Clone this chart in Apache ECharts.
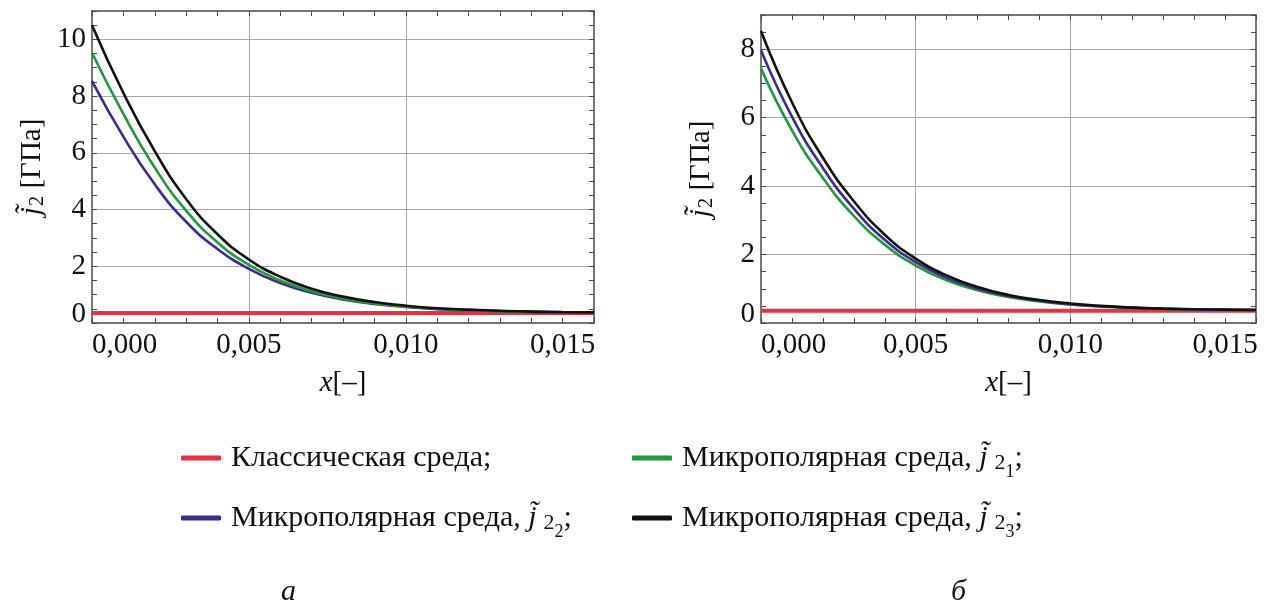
<!DOCTYPE html>
<html>
<head>
<meta charset="utf-8">
<script src="https://cdn.jsdelivr.net/npm/echarts@6/dist/echarts.min.js"></script>
<style>
html, body { margin: 0; padding: 0; background: #fff; }
#main { width: 1273px; height: 606px; }
</style>
</head>
<body>
<div id="main"></div>
<script>
// x, [-]
const xVals = [0, 0.001, 0.002, 0.003, 0.004, 0.005, 0.006, 0.007, 0.008, 0.009, 0.010, 0.011, 0.012, 0.013, 0.014, 0.015, 0.016];

// panel a, GPa
const classicA = [0.35, 0.35, 0.35, 0.35, 0.35, 0.35, 0.35, 0.35, 0.35, 0.35, 0.35, 0.35, 0.35, 0.35, 0.35, 0.35, 0.35];
const j21A = [9.53, 7.37, 5.48, 3.96, 2.84, 2.05, 1.5, 1.12, 0.86, 0.69, 0.58, 0.5, 0.45, 0.42, 0.4, 0.38, 0.37];
const j22A = [8.53, 6.57, 4.89, 3.57, 2.61, 1.91, 1.41, 1.07, 0.83, 0.67, 0.565, 0.49, 0.45, 0.415, 0.39, 0.38, 0.37];
const j23A = [10.5, 8.11, 6.06, 4.37, 3.13, 2.24, 1.63, 1.21, 0.93, 0.74, 0.61, 0.52, 0.47, 0.43, 0.4, 0.385, 0.375];

// panel b, GPa
const classicB = [0.36, 0.36, 0.36, 0.36, 0.36, 0.36, 0.36, 0.36, 0.36, 0.36, 0.36, 0.36, 0.36, 0.36, 0.36, 0.36, 0.36];
const j21B = [7.44, 5.63, 4.24, 3.13, 2.29, 1.68, 1.25, 0.96, 0.76, 0.63, 0.54, 0.48, 0.44, 0.41, 0.4, 0.385, 0.375];
const j22B = [7.97, 6.03, 4.53, 3.34, 2.43, 1.78, 1.32, 1.0, 0.79, 0.65, 0.55, 0.49, 0.45, 0.42, 0.4, 0.385, 0.38];
const j23B = [8.53, 6.45, 4.83, 3.56, 2.58, 1.88, 1.39, 1.05, 0.82, 0.67, 0.57, 0.5, 0.45, 0.42, 0.4, 0.39, 0.38];

const names = ['Классическая среда;', 'Микрополярная среда, j21;', 'Микрополярная среда, j22;', 'Микрополярная среда, j23;'];
const subs = ['', '1', '2', '3'];
const colors = ['#e8323f', '#1f9a3c', '#3c2c8e', '#111111'];
const panelLabels = ['а', 'б'];

const F = '"Liberation Serif", "Times New Roman", serif';
const FRAME = '#4a4a4a';
const GRIDC = '#a8a8a8';
const NONE = 'rgba(0,0,0,0)';

const chart = echarts.init(document.getElementById('main'));

const grids = [
  { left: 92, right: 679, top: 11, bottom: 283, outerBoundsMode: 'none' },
  { left: 761, right: 17, top: 15, bottom: 283, outerBoundsMode: 'none' }
];
const yMax = [11, 9];

function pairs(ys) {
  return xVals.map((x, i) => [x, ys[i]]);
}

function xLabel(v) {
  const m = Math.round(v * 1000);
  if (m % 5 !== 0 || m > 15) return '';
  return v.toFixed(3).replace('.', ',');
}
function yLabel(v) {
  const r = Math.round(v);
  if (Math.abs(v - r) > 1e-6 || r % 2 !== 0) return '';
  if (r === 0) return '{z|0}';
  return '{n|' + r + '}';
}

const nameRich = {
  j: { fontFamily: F, fontSize: 29, fontStyle: 'italic', color: '#111' },
  x: { fontFamily: F, fontSize: 29, fontStyle: 'italic', color: '#111' },
  s: { fontFamily: F, fontSize: 21, color: '#111', padding: [10, 0, 0, 1] },
  t: { fontFamily: F, fontSize: 29, color: '#111' }
};

const xAxes = [];
const yAxes = [];
[0, 1].forEach(g => {
  const xSplit = xVals.map((x, i) => (i === 5 || i === 10) ? GRIDC : NONE);
  const nY = yMax[g] * 2 + 1;
  const ySplit = [];
  for (let i = 0; i < nY; i++) ySplit.push(i > 0 && i % 4 === 0 ? GRIDC : NONE);
  const common = {
    type: 'value', gridIndex: g, min: 0, max: 0.016, interval: 0.001,
    axisLine: { show: true, onZero: false, lineStyle: { color: FRAME, width: 1.5 } },
    axisTick: { show: true, inside: true, length: 5, lineStyle: { color: FRAME, width: 1 } }
  };
  xAxes.push(Object.assign({}, common, {
    position: 'bottom',
    name: '{x|x}{t|[–]}',
    nameLocation: 'middle',
    nameGap: 46,
    nameTextStyle: { rich: nameRich },
    axisLabel: {
      show: true, margin: 8, formatter: xLabel, alignMinLabel: 'left',
      fontFamily: F, fontSize: 29, color: '#111'
    },
    splitLine: { show: true, lineStyle: { color: xSplit, width: 1 } }
  }));
  xAxes.push(Object.assign({}, common, {
    position: 'top',
    axisLabel: { show: false },
    splitLine: { show: false }
  }));
  const ycommon = {
    type: 'value', gridIndex: g, min: 0, max: yMax[g], interval: 0.5,
    axisLine: { show: true, onZero: false, lineStyle: { color: FRAME, width: 1.5 } },
    axisTick: { show: true, inside: true, length: 5, lineStyle: { color: FRAME, width: 1 } }
  };
  yAxes.push(Object.assign({}, ycommon, {
    position: 'left',
    name: '{j|j\u0303}{s|2}{t| [ГПа]}',
    nameLocation: 'middle',
    nameRotate: 90,
    nameGap: 44,
    nameTextStyle: { rich: nameRich },
    axisLabel: {
      show: true, margin: 6, formatter: yLabel,
      rich: {
        n: { fontFamily: F, fontSize: 29, color: '#111' },
        z: { fontFamily: F, fontSize: 29, color: '#111', padding: [0, 0, 18, 0] }
      }
    },
    splitLine: { show: true, lineStyle: { color: ySplit, width: 1 } }
  }));
  yAxes.push(Object.assign({}, ycommon, {
    position: 'right',
    axisLabel: { show: false },
    splitLine: { show: false }
  }));
});

const panelData = [
  [classicA, j22A, j21A, j23A],
  [classicB, j21B, j22B, j23B]
];
const seriesOrder = [
  [0, 2, 1, 3],
  [0, 1, 2, 3]
];

const series = [];
[0, 1].forEach(g => {
  seriesOrder[g].forEach((k, n) => {
    series.push({
      type: 'line',
      name: names[k],
      xAxisIndex: g * 2,
      yAxisIndex: g * 2,
      data: pairs(panelData[g][n]),
      showSymbol: false,
      smooth: 0.5,
      color: colors[k],
      z: 3 + n,
      lineStyle: { width: k === 0 ? 4 : 2.6, color: colors[k] }
    });
  });
});

const legendRich = {
  t: { fontFamily: F, fontSize: 30, color: '#111', lineHeight: 36, padding: [0, 0, 0, 5] },
  j: { fontFamily: F, fontSize: 30, fontStyle: 'italic', color: '#111', lineHeight: 36, padding: [0, 7, 0, 0] },
  s: { fontFamily: F, fontSize: 22, color: '#111', lineHeight: 36, padding: [10, 0, 0, 0] },
  ss: { fontFamily: F, fontSize: 18, color: '#111', lineHeight: 36, padding: [28, 0, 0, 0] },
  p: { fontFamily: F, fontSize: 30, color: '#111', lineHeight: 36 }
};
function legendText(name) {
  const k = names.indexOf(name);
  if (k === 0) return '{t|' + name + '}';
  return '{t|Микрополярная среда, }{j|j\u0303}{s|2}{ss|' + subs[k] + '}{p|;}';
}
const legendPos = [[181, 443], [632, 435], [181, 495], [632, 495]];
const legends = names.map((nm, k) => ({
  data: [nm],
  left: legendPos[k][0],
  top: legendPos[k][1],
  padding: 0,
  icon: 'roundRect',
  itemWidth: 40,
  itemHeight: 5,
  selectedMode: false,
  formatter: legendText,
  textStyle: { rich: legendRich }
}));

chart.setOption({
  animation: false,
  backgroundColor: '#fff',
  title: [
    { text: panelLabels[0], left: 276, top: 572, textStyle: { fontFamily: F, fontSize: 30, fontStyle: 'italic', fontWeight: 'normal', color: '#111' } },
    { text: panelLabels[1], left: 946, top: 572, textStyle: { fontFamily: F, fontSize: 30, fontStyle: 'italic', fontWeight: 'normal', color: '#111' } }
  ],
  legend: legends,
  grid: grids,
  xAxis: xAxes,
  yAxis: yAxes,
  series: series
});
</script>
</body>
</html>
